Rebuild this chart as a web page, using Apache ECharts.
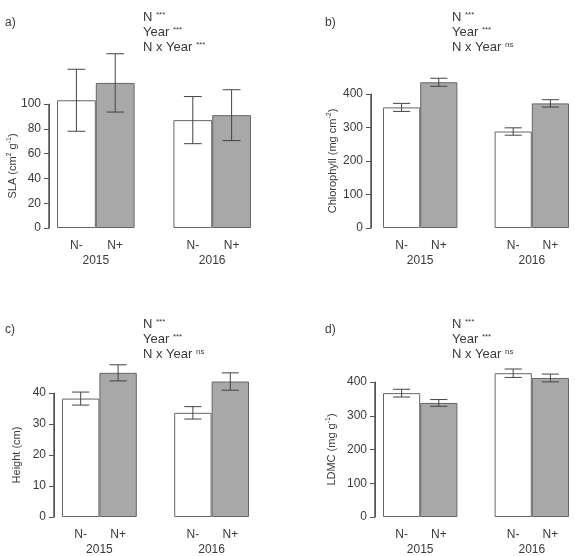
<!DOCTYPE html>
<html>
<head>
<meta charset="utf-8">
<script src="https://cdn.jsdelivr.net/npm/echarts@6/dist/echarts.min.js"></script>
<style>
  html, body { margin: 0; padding: 0; background: #fff; }
  #chart { width: 575px; height: 556px; }
</style>
</head>
<body>
<div id="chart"></div>
<script>
  // bar slots: N- , N+ , (gap) , N- , N+
  var treatments = ['N-', 'N+', '', 'N-', 'N+'];
  var years = ['2015', '2016'];

  // means and errors per panel, order: 2015 N-, 2015 N+, 2016 N-, 2016 N+
  var slaMean = [103, 117, 87, 91];
  var slaErr = [25, 23.5, 19, 20.5];
  var chlMean = [360, 435, 288, 372];
  var chlErr = [12, 12, 11, 11];
  var heightMean = [38.2, 46.5, 33.6, 43.7];
  var heightErr = [2.1, 2.6, 2.0, 2.8];
  var ldmcMean = [367, 338, 426, 412];
  var ldmcErr = [11.5, 10, 12.5, 11.5];

  var yMax = [100, 400, 40, 400];
  var yStep = [20, 100, 10, 100];
  var yNames = [
    'SLA (cm{sup|2} g{sup|-1})',
    'Chlorophyll (mg cm{sup|-2})',
    'Height (cm)',
    'LDMC (mg g{sup|-1})'
  ];
  var letters = ['a)', 'b)', 'c)', 'd)'];
  var stats = [
    ['***', '***', '***'],
    ['***', '***', 'ns'],
    ['***', '***', 'ns'],
    ['***', '***', 'ns']
  ];

  var means = [slaMean, chlMean, heightMean, ldmcMean];
  var errs = [slaErr, chlErr, heightErr, ldmcErr];

  // layout
  var grids = [
    { left: 57, top: 104, width: 194, height: 124 },
    { left: 383, top: 94, width: 186, height: 134 },
    { left: 62, top: 393, width: 187, height: 125 },
    { left: 383, top: 382, width: 186, height: 136 }
  ];
  var axisOffset = [8, 12, 8, 8];
  var nameGap = [30, 32, 32, 37];
  var letterPos = [[5, 17], [325, 17], [5, 324], [325, 324]];
  var statPos = [[143, 10], [452, 10], [143, 317], [452, 317]];

  var textCol = '#3a3a3a';
  var lineCol = '#555555';

  var slotIdx = [0, 1, 3, 4];

  var option = {
    backgroundColor: '#fff',
    animation: false,
    grid: [],
    xAxis: [],
    yAxis: [],
    title: [],
    series: []
  };

  for (var p = 0; p < 4; p++) {
    option.grid.push(Object.assign({ containLabel: false }, grids[p]));

    // treatment labels
    option.xAxis.push({
      type: 'category',
      gridIndex: p,
      data: treatments,
      axisLine: { show: false },
      axisTick: { show: false },
      axisLabel: { color: textCol, fontSize: 12, margin: 12, fontFamily: 'Liberation Sans' }
    });
    // year labels
    option.xAxis.push({
      type: 'value',
      gridIndex: p,
      position: 'bottom',
      min: -0.5,
      max: 4.5,
      interval: 0.5,
      splitLine: { show: false },
      axisLine: { show: false },
      axisTick: { show: false },
      axisLabel: {
        color: textCol, fontSize: 12, margin: 27, fontFamily: 'Liberation Sans',
        formatter: function (v) {
          if (v === 0.5) return years[0];
          if (v === 3.5) return years[1];
          return '';
        }
      }
    });

    // axis with ticks and labels
    option.yAxis.push({
      type: 'value',
      gridIndex: p,
      min: 0,
      max: yMax[p],
      interval: yStep[p],
      offset: axisOffset[p],
      splitLine: { show: false },
      axisLine: { show: true, onZero: false, lineStyle: { color: lineCol, width: 1 } },
      axisTick: { show: true, length: 5, lineStyle: { color: lineCol } },
      axisLabel: { color: textCol, fontSize: 12, margin: 8, fontFamily: 'Liberation Sans' }
    });
    // axis carrying only the name
    option.yAxis.push({
      type: 'value',
      gridIndex: p,
      position: 'left',
      min: 0,
      max: yMax[p],
      offset: axisOffset[p],
      splitLine: { show: false },
      axisLine: { show: false, onZero: false },
      axisTick: { show: false },
      axisLabel: { show: false },
      name: yNames[p],
      nameLocation: 'middle',
      nameRotate: 90,
      nameGap: nameGap[p],
      nameTextStyle: {
        color: textCol, fontSize: 11, fontFamily: 'Liberation Sans',
        rich: { sup: { fontSize: 7, verticalAlign: 'top', padding: [0, 0, 6, 0], color: textCol } }
      }
    });

    option.title.push({
      text: letters[p],
      left: letterPos[p][0],
      top: letterPos[p][1],
      padding: 0,
      textStyle: { color: textCol, fontSize: 12, fontWeight: 'normal', fontFamily: 'Liberation Sans' }
    });
    var s = stats[p];
    option.title.push({
      text: 'N {s|' + s[0] + '}\nYear {s|' + s[1] + '}\nN x Year {s|' + s[2] + '}',
      left: statPos[p][0],
      top: statPos[p][1],
      padding: 0,
      textStyle: {
        color: textCol, fontSize: 13, fontWeight: 'normal', fontFamily: 'Liberation Sans',
        lineHeight: 15,
        rich: { s: { fontSize: 8, color: textCol, padding: [0, 0, 5, 0], lineHeight: 15 } }
      }
    });

    var m = means[p];
    var e = errs[p];
    var whiteData = [m[0], null, null, m[2], null];
    var grayData = [null, m[1], null, null, m[3]];
    var errData = [];
    for (var k = 0; k < 4; k++) {
      errData.push([slotIdx[k], m[k] - e[k], m[k] + e[k]]);
    }

    option.series.push({
      type: 'bar',
      xAxisIndex: p * 2,
      yAxisIndex: p * 2,
      data: whiteData,
      barWidth: '100%',
      barGap: '-100%',
      clip: false,
      itemStyle: { color: '#ffffff', borderColor: '#666', borderWidth: 1 }
    });
    option.series.push({
      type: 'bar',
      xAxisIndex: p * 2,
      yAxisIndex: p * 2,
      data: grayData,
      barWidth: '100%',
      barGap: '-100%',
      clip: false,
      itemStyle: { color: '#a8a8a8', borderColor: '#666', borderWidth: 1 }
    });
    option.series.push({
      type: 'custom',
      xAxisIndex: p * 2,
      yAxisIndex: p * 2,
      data: errData,
      clip: false,
      z: 5,
      encode: { x: 0, y: [1, 2] },
      renderItem: function (params, api) {
        var x = api.value(0);
        var lo = api.coord([x, api.value(1)]);
        var hi = api.coord([x, api.value(2)]);
        var half = api.size([1, 0])[0] * 0.23;
        var st = { stroke: '#444', lineWidth: 1 };
        return {
          type: 'group',
          children: [
            { type: 'line', shape: { x1: lo[0], y1: lo[1], x2: hi[0], y2: hi[1] }, style: st },
            { type: 'line', shape: { x1: lo[0] - half, y1: lo[1], x2: lo[0] + half, y2: lo[1] }, style: st },
            { type: 'line', shape: { x1: hi[0] - half, y1: hi[1], x2: hi[0] + half, y2: hi[1] }, style: st }
          ]
        };
      }
    });
    // y axis spine, from 0 to the top tick, just left of the bars
    option.series.push({
      type: 'custom',
      xAxisIndex: p * 2 + 1,
      yAxisIndex: p * 2,
      data: [[-0.5, 0, yMax[p], axisOffset[p]]],
      clip: false,
      silent: true,
      z: 10,
      encode: { x: 0, y: [1, 2] },
      renderItem: function (params, api) {
        var b = api.coord([api.value(0), api.value(1)]);
        var t = api.coord([api.value(0), api.value(2)]);
        var x = b[0] - api.value(3);
        return {
          type: 'rect',
          shape: { x: x - 0.75, y: t[1], width: 1.5, height: b[1] - t[1] },
          style: { fill: lineCol }
        };
      }
    });
  }

  var chart = echarts.init(document.getElementById('chart'));
  chart.setOption(option);
  window.addEventListener('resize', function () {
    chart.resize();
  });
</script>
</body>
</html>
